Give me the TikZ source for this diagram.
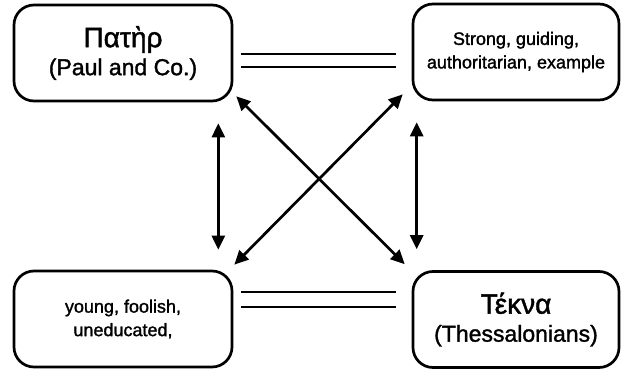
\documentclass[tikz,border=0pt]{standalone}
\usepackage{fontspec}
\setmainfont[FakeBold=1.5]{Liberation Sans}
\usetikzlibrary{arrows.meta,calc}
\begin{document}
\begin{tikzpicture}[x=1pt,y=-1pt,
  box/.style={draw, line width=2.7pt, rounded corners=20pt, inner sep=0pt,
    align=center, minimum height=96pt},
  wide/.style={minimum width=218pt},
  narrow/.style={minimum width=206pt},
  bigtext/.style={font=\fontsize{23}{28}\selectfont},
  smalltext/.style={font=\fontsize{18}{23.5}\selectfont},
  equal/.style={line width=2.8pt},
  biarrow/.style={line width=2.7pt,
    {Triangle[length=14pt,width=13pt]}-{Triangle[length=14pt,width=13pt]}},
]
\useasboundingbox (0,0) rectangle (621,369);

% the four parties
\node[box, wide, bigtext] (father) at (123,53)
  {{\fontsize{28}{28}\selectfont Πατὴρ}\\(Paul and Co.)};
\node[box, narrow, smalltext] (traits) at (516,52)
  {Strong, guiding,\\authoritarian, example};
\node[box, wide, smalltext] (young) at (123,319)
  {young, foolish,\\uneducated,};
\node[box, narrow, bigtext] (children) at (516,319.5)
  {{\fontsize{28}{28}\selectfont Τέκνα}\\(Thessalonians)};

% equivalence bars
\draw[equal] ($(father.east)+(8,1)$) -- ($(traits.west)+(-16,2)$);
\draw[equal] ($(father.east)+(8,14)$) -- ($(traits.west)+(-16,15)$);
\draw[equal] ($(young.east)+(8,-27)$) -- ($(children.west)+(-16,-27.5)$);
\draw[equal] ($(young.east)+(8,-12)$) -- ($(children.west)+(-16,-12.5)$);

% vertical relations
\draw[biarrow] ($(father.south east)+(-15,21)$) -- ($(young.north east)+(-15,-20)$);
\draw[biarrow] ($(traits.south west)+(5,21)$) -- ($(children.north west)+(5,-21)$);

% crossing relations
\draw[biarrow] ($(father.south east)+(3,-6)$) -- ($(children.north west)+(-7,-6)$);
\draw[biarrow] ($(traits.south west)+(-9,-7)$) -- ($(young.north east)+(1,-5)$);
\end{tikzpicture}
\end{document}
